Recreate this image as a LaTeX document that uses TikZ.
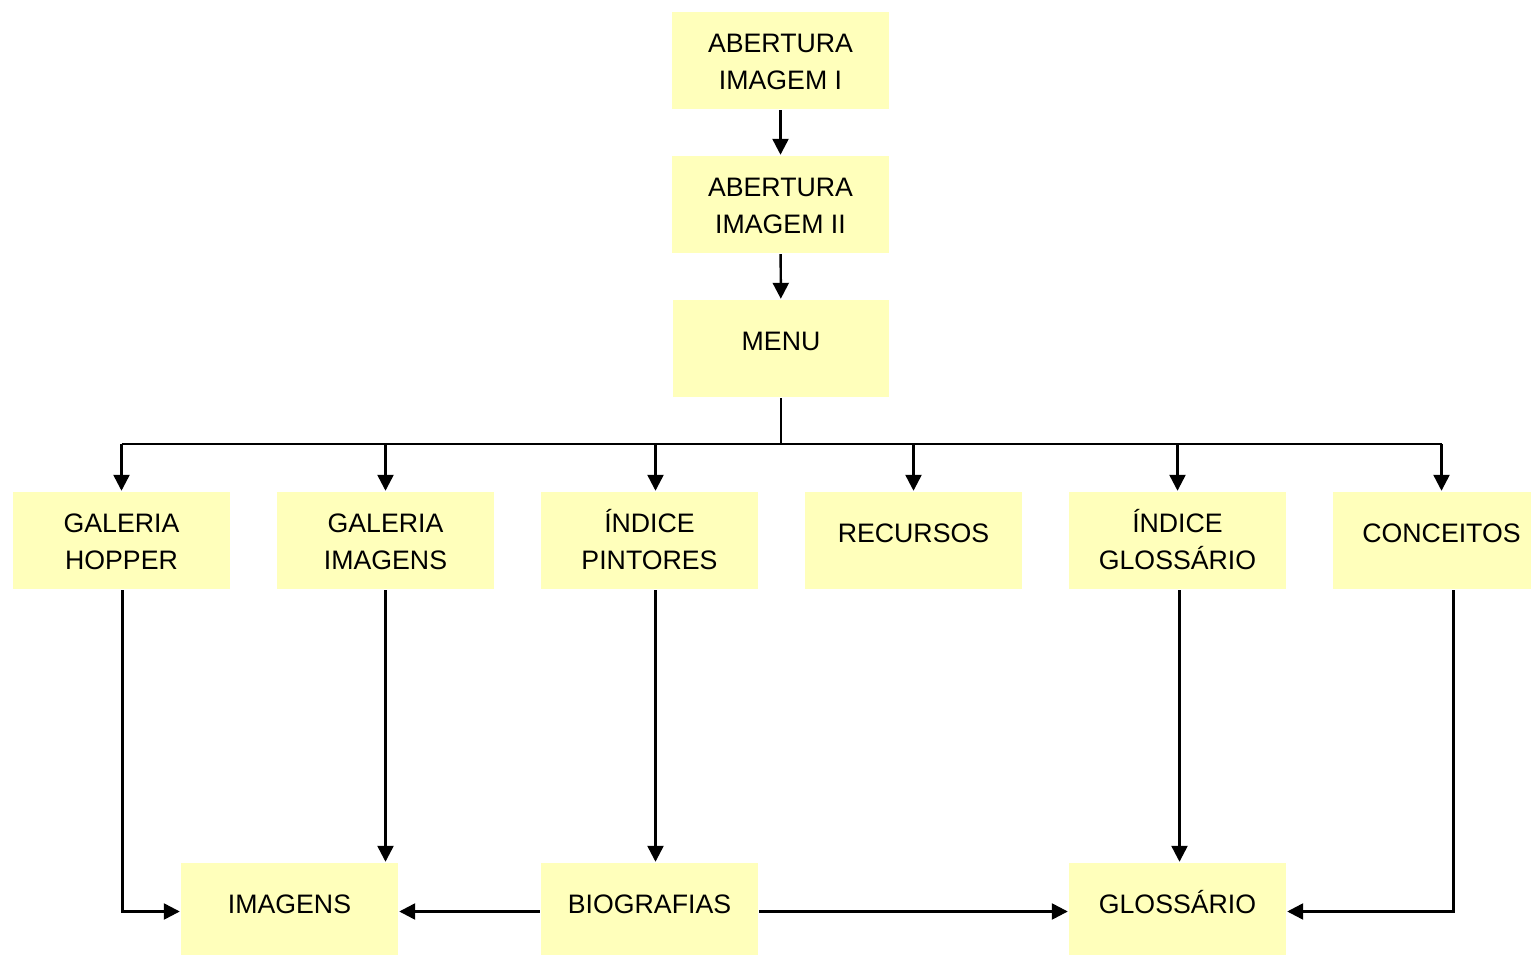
\documentclass[tikz,border=0pt]{standalone}
\usepackage{fontspec}
\setmainfont{Liberation Sans}
\usetikzlibrary{arrows.meta,calc}
\definecolor{boxfill}{HTML}{FFFFBB}

\begin{document}
\begin{tikzpicture}[x=0.02cm, y=-0.02cm, line width=1.4pt,
    nodes={font=\fontsize{15.2pt}{21pt}\selectfont, align=center},
    box/.style={fill=boxfill, minimum width=4.34cm, minimum height=1.94cm, inner sep=0},
    twoline/.style={box, text height=1.16cm, text depth=0cm},
    oneline/.style={box, text height=0.4cm, text depth=0.32cm},
    arr/.style={-{Triangle[length=0.32cm, width=0.32cm]}}]
  \useasboundingbox (0,0) rectangle (1531,955);
  % top column
  \node[twoline] (ab1) at (780.5,60.5) {ABERTURA\\IMAGEM I};
  \node[twoline] (ab2) at (780.5,204.5) {ABERTURA\\IMAGEM II};
  \node[oneline] (menu) at (781,348.5) {MENU};
  % middle row
  \node[twoline] (hopper) at (121.5,540.5) {GALERIA\\HOPPER};
  \node[twoline] (galimg) at (385.5,540.5) {GALERIA\\IMAGENS};
  \node[twoline] (pintores) at (649.5,540.5) {ÍNDICE\\PINTORES};
  \node[oneline] (recursos) at (913.5,540.5) {RECURSOS};
  \node[twoline] (indglos) at (1177.5,540.5) {ÍNDICE\\GLOSSÁRIO};
  \node[oneline] (conceitos) at (1441.5,540.5) {CONCEITOS};
  % bottom row
  \node[oneline] (imagens) at (289.5,911.5) {IMAGENS};
  \node[oneline] (bio) at (649.5,911.5) {BIOGRAFIAS};
  \node[oneline] (glossario) at (1177.5,911.5) {GLOSSÁRIO};
  % connectors
  \draw[arr] (ab1) -- (ab2);
  \draw[arr] (ab2) -- (menu);
  \coordinate (bus) at (781,444);
  \coordinate (busl) at (121.5,444);
  \coordinate (busr) at (1441.5,444);
  \draw (menu.south) -- (bus);
  \draw (busl) -- (busr);
  \draw[arr] (busl) -- (hopper.north);
  \draw[arr] (galimg.north |- bus) -- (galimg.north);
  \draw[arr] ($(pintores.north |- bus)+(6,0)$) -- ($(pintores.north)+(6,0)$);
  \draw[arr] (recursos.north |- bus) -- (recursos.north);
  \draw[arr] (indglos.north |- bus) -- (indglos.north);
  \draw[arr] (busr) -- (conceitos.north);
  \draw[arr] ($(hopper.south)+(1,0)$) |- (imagens.west);
  \draw[arr] (galimg.south) -- (galimg.south |- imagens.north);
  \draw[arr] ($(pintores.south)+(6,0)$) -- ($(bio.north)+(6,0)$);
  \draw[arr] ($(indglos.south)+(2,0)$) -- ($(glossario.north)+(2,0)$);
  \draw[arr] ($(conceitos.south)+(12,0)$) |- (glossario.east);
  \draw[arr] (bio.west) -- (imagens.east);
  \draw[arr] (bio.east) -- (glossario.west);
\end{tikzpicture}
\end{document}
